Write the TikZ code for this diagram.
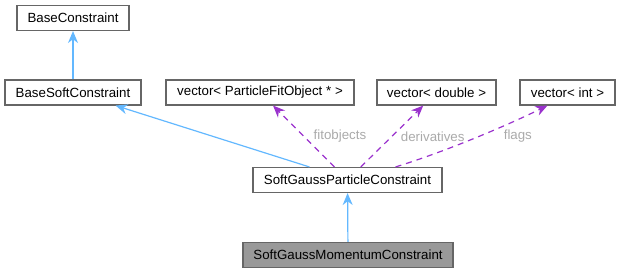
\documentclass[tikz,border=0pt]{standalone}
\usepackage{fontspec}
\setmainfont{Liberation Sans}
\usepackage{xcolor}
\usetikzlibrary{arrows.meta, positioning, calc}
\definecolor{edgeblue}{RGB}{99, 184, 255}
\definecolor{edgepurple}{RGB}{154, 50, 205}
\definecolor{boxgray}{RGB}{102, 102, 102}
\definecolor{labelgray}{RGB}{170, 170, 170}

\begin{document}
\begin{tikzpicture}[x=1pt, y=-1pt, >={Stealth[length=12pt, width=10pt]},
    classbox/.style={draw=boxgray, line width=1.1pt, minimum height=25pt, inner sep=0pt,
        font=\fontsize{13.3}{15}\selectfont},
    inherit/.style={->, edgeblue, line width=1.2pt},
    usage/.style={->, edgepurple, dashed, dash pattern=on 6pt off 5pt, line width=1.2pt},
    edgelabel/.style={text=labelgray, font=\fontsize{13.3}{15}\selectfont}]
    \useasboundingbox (0,0) rectangle (621,273);
    \node[classbox, minimum width=112pt] (bc) at (73,18) {BaseConstraint};
    \node[classbox, minimum width=136pt] (bsc) at (73,92.5) {BaseSoftConstraint};
    \node[classbox, minimum width=188pt] (vpfo) at (260,92.5) {vector< ParticleFitObject * >};
    \node[classbox, minimum width=119pt] (vdbl) at (436.5,92.5) {vector< double >};
    \node[classbox, minimum width=95pt] (vint) at (567.5,92.5) {vector< int >};
    \node[classbox, minimum width=189pt] (sgp) at (347.5,180) {SoftGaussParticleConstraint};
    \node[classbox, minimum width=210pt, fill=black!40] (sgm) at (348,255) {SoftGaussMomentumConstraint};
    % inheritance
    \draw[inherit] (bsc) -- (bc);
    \draw[inherit] ($(sgp.north west)+(57,0)$) -- ($(bsc.south east)+(-26,0)$);
    \draw[inherit] (sgm) -- (sgp);
    % members
    \draw[usage] (sgp) -- node[edgelabel, right=6pt] {fitobjects} (vpfo);
    \draw[usage] (sgp) -- node[edgelabel, right=5pt] {derivatives} (vdbl);
    \draw[usage] ($(sgp.north east)+(-47,0)$) .. controls (450,150) and (510,124) .. ($(vint.south west)+(28,0)$)
        node[edgelabel, pos=0.45, anchor=west, xshift=30pt, yshift=4pt] {flags};
\end{tikzpicture}
\end{document}
